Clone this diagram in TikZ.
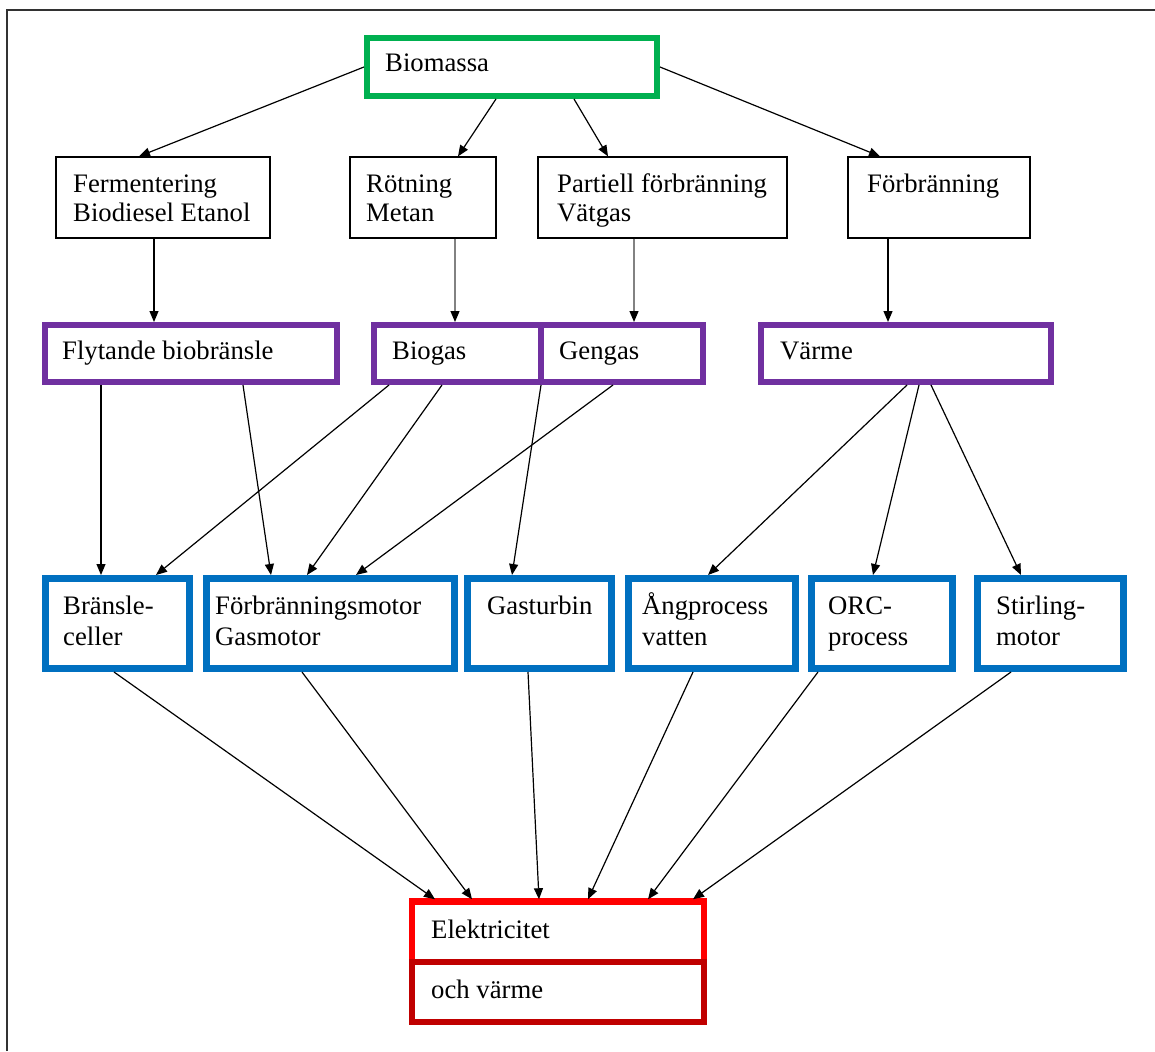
\documentclass[tikz,border=0pt]{standalone}
\usepackage{fontspec}
\setmainfont{Liberation Serif}
\usetikzlibrary{arrows.meta}
\definecolor{cgreen}{RGB}{0,176,80}
\definecolor{cpurple}{RGB}{112,48,160}
\definecolor{cblue}{RGB}{0,112,192}
\definecolor{cred}{RGB}{255,0,0}
\definecolor{cdarkred}{RGB}{192,0,0}
\definecolor{cgray}{RGB}{130,130,130}
\definecolor{cframe}{RGB}{50,50,50}
\newcommand\pbox[6]{\node[#6,minimum width={(#4-#2)*1pt},minimum height={(#5-#3)*1pt}] (#1) at ({(#2+#4)/2},{(#3+#5)/2}) {};}
\begin{document}
\begin{tikzpicture}[x=1pt,y=-1pt,
  basebox/.style={rectangle,inner sep=0pt,fill=white},
  thinbox/.style={basebox,draw=black,line width=1.3pt},
  greenbox/.style={basebox,draw=cgreen,line width=6pt},
  purplebox/.style={basebox,draw=cpurple,line width=6pt},
  bluebox/.style={basebox,draw=cblue,line width=7pt},
  redbox/.style={basebox,draw=cred,line width=5.5pt},
  darkredbox/.style={basebox,draw=cdarkred,line width=5.5pt},
  lbl/.style={anchor=base west,inner sep=0pt,align=left,font=\fontsize{26.7}{28.5}\selectfont},
  lblb/.style={lbl,font=\fontsize{26.7}{31}\selectfont},
  conn/.style={line width=1.2pt,-{Triangle[length=11pt,width=9pt,color=black]}},
  gconn/.style={conn,draw=cgray}]
\useasboundingbox (0,0) rectangle (1155,1051);
\fill[white] (0,0) rectangle (1155,1051);
\draw[cframe,line width=2pt] (7,1051) -- (7,10) -- (1155,10);
% top
\pbox{bio}{367}{38}{657}{96}{greenbox}
\pbox{ferm}{56}{157}{270}{238}{thinbox}
\pbox{rot}{350}{157}{496}{238}{thinbox}
\pbox{part}{538}{157}{787}{238}{thinbox}
\pbox{forb}{848}{157}{1030}{238}{thinbox}
% middle
\pbox{fl}{45}{325}{337}{382}{purplebox}
\pbox{bg}{374}{325}{541}{382}{purplebox}
\pbox{gg}{541}{325}{703}{382}{purplebox}
\pbox{varme}{761}{325}{1051}{382}{purplebox}
% lower
\pbox{bc}{45.5}{578.5}{189.5}{668.5}{bluebox}
\pbox{fm}{206.5}{578.5}{454.5}{668.5}{bluebox}
\pbox{gt}{467.5}{578.5}{611.5}{668.5}{bluebox}
\pbox{ang}{628.5}{578.5}{795.5}{668.5}{bluebox}
\pbox{orc}{811.5}{578.5}{952.5}{668.5}{bluebox}
\pbox{st}{977.5}{578.5}{1123.5}{668.5}{bluebox}
% bottom
\pbox{el}{412}{902}{704}{962}{redbox}
\pbox{ov}{412}{962}{704}{1022}{darkredbox}
\draw[cred,line width=3pt] (el.north west) -- (el.north east);
% labels (multi-line labels are anchored at the baseline of their last line)
\node[lbl] (tbio) at (385,72) {Biomassa};
\node[lbl] (tferm) at (73,221) {Fermentering\\Biodiesel Etanol};
\node[lbl] (trot) at (366,221) {Rötning\\Metan};
\node[lbl] (tpart) at (557,221) {Partiell förbränning\\Vätgas};
\node[lbl] (tforb) at (867,193) {Förbränning};
\node[lbl] (tfl) at (62,359) {Flytande biobränsle};
\node[lbl] (tbg) at (392,359) {Biogas};
\node[lbl] (tgg) at (559,359) {Gengas};
\node[lbl] (tvarme) at (780,359) {Värme};
\node[lblb] (tbc) at (63,645) {Bränsle-\\celler};
\node[lblb] (tfm) at (215,645) {Förbränningsmotor\\Gasmotor};
\node[lblb] (tgt) at (487,614) {Gasturbin};
\node[lblb] (tang) at (642,645) {Ångprocess\\vatten};
\node[lblb] (torc) at (828,645) {ORC-\\process};
\node[lblb] (tst) at (996,645) {Stirling-\\motor};
\node[lbl] (tel) at (431,938) {Elektricitet};
\node[lbl] (tov) at (431,998) {och värme};
% connectors top
\draw[conn] (bio.west) -- (ferm.north -| 139,0);
\draw[conn] (bio.south -| 496,0) -- (rot.north -| 458,0);
\draw[conn] (bio.south -| 574,0) -- (part.north -| 608,0);
\draw[conn] (bio.east) -- (forb.north -| 880,0);
\draw[conn] (ferm.south -| 154,0) -- (fl.north -| 154,0);
\draw[gconn] (rot.south -| 455,0) -- (bg.north -| 455,0);
\draw[gconn] (part.south -| 634,0) -- (gg.north -| 634,0);
\draw[conn] (forb.south -| 888,0) -- (varme.north -| 888,0);
% connectors middle
\draw[conn] (fl.south -| 101,0) -- (bc.north -| 101,0);
\draw[conn] (fl.south -| 243,0) -- (fm.north -| 271,0);
\draw[conn] (bg.south -| 389,0) -- (bc.north -| 156,0);
\draw[conn] (bg.south -| 442,0) -- (fm.north -| 307,0);
\draw[conn] (gg.south -| 541,0) -- (gt.north -| 512,0);
\draw[conn] (gg.south -| 613,0) -- (fm.north -| 356,0);
\draw[conn] (varme.south -| 907,0) -- (ang.north -| 708,0);
\draw[conn] (varme.south -| 919,0) -- (orc.north -| 873,0);
\draw[conn] (varme.south -| 931,0) -- (st.north -| 1021,0);
% connectors bottom
\draw[conn] (bc.south -| 114,0) -- (el.north -| 435,0);
\draw[conn] (fm.south -| 302,0) -- (el.north -| 472,0);
\draw[conn] (gt.south -| 528,0) -- (el.north -| 539,0);
\draw[conn] (ang.south -| 693,0) -- (el.north -| 588,0);
\draw[conn] (orc.south -| 818,0) -- (el.north -| 648,0);
\draw[conn] (st.south -| 1011,0) -- (el.north -| 693,0);
\end{tikzpicture}
\end{document}
